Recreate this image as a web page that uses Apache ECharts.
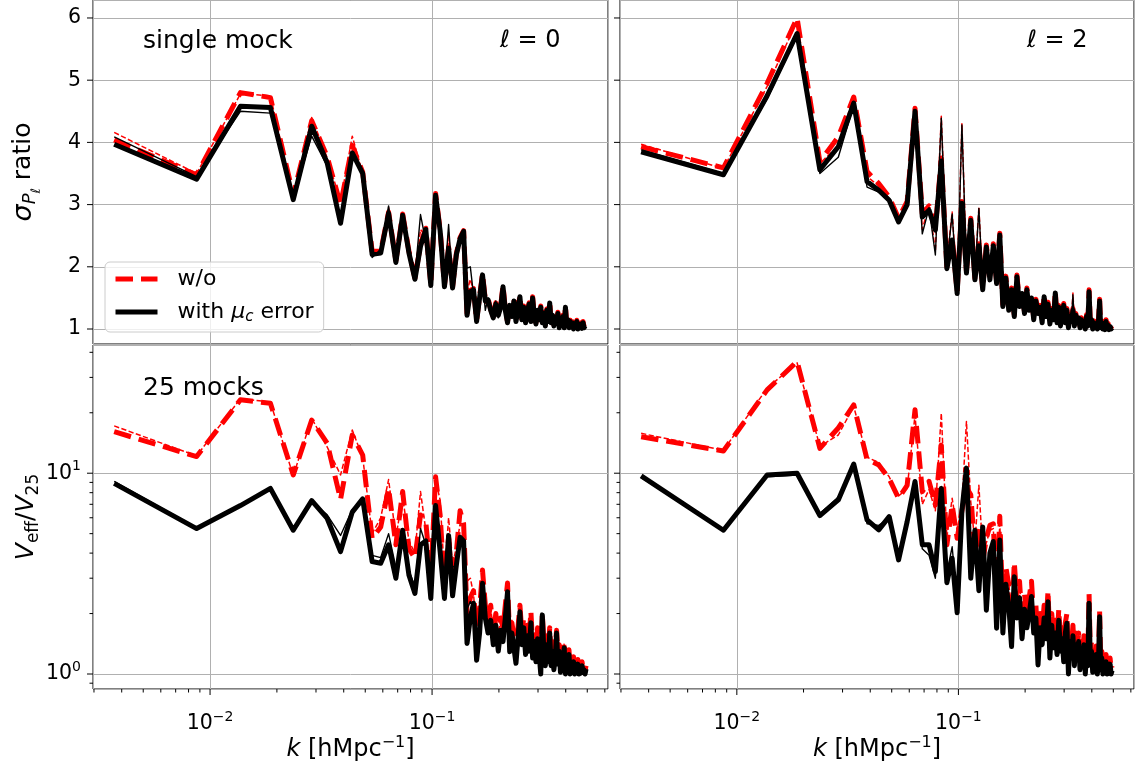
<!DOCTYPE html>
<html>
<head>
<meta charset="utf-8">
<title>sigma ratio / Veff</title>
<script src="https://cdn.jsdelivr.net/npm/echarts@6/dist/echarts.min.js"></script>
<style>
  html, body { margin: 0; padding: 0; background: #fff; }
  #main { width: 1142px; height: 769px; }
</style>
</head>
<body>
<div id="main"></div>
<script>
// k bins [h/Mpc]
var k = [
  0.0037,0.0087,0.0137,0.0187,0.0237,0.0287,0.0337,0.0387,0.0437,0.0487,
  0.0537,0.0587,0.0637,0.0687,0.0737,0.0787,0.0837,0.0887,0.0937,0.0987,
  0.1037,0.1087,0.1137,0.1187,0.1237,0.1287,0.1337,0.1387,0.1437,0.1487,
  0.1537,0.1587,0.1637,0.1687,0.1737,0.1787,0.1837,0.1887,0.1937,0.1987,
  0.2037,0.2087,0.2137,0.2187,0.2237,0.2287,0.2337,0.2387,0.2437,0.2487,
  0.2537,0.2587,0.2637,0.2687,0.2737,0.2787,0.2837,0.2887,0.2937,0.2987,
  0.3037,0.3087,0.3137,0.3187,0.3237,0.3287,0.3337,0.3387,0.3437,0.3487,
  0.3537,0.3587,0.3637,0.3687,0.3737,0.3787,0.3837,0.3887,0.3937,0.3987,
  0.4037,0.4087,0.4137,0.4187,0.4237,0.4287,0.4337,0.4387,0.4437,0.4487,
  0.4537,0.4587,0.4637,0.4687,0.4737,0.4787,0.4837,0.4887,0.4937
];

// single mock, l=0 : sigma ratio
var l0SingleWo = [
  4.04,3.48,4.80,4.72,3.15,4.35,3.77,3.00,3.95,3.52,
  2.25,2.25,2.88,2.10,2.85,2.25,1.82,2.36,2.62,1.72,
  3.18,2.60,1.70,2.32,1.68,2.22,2.47,2.58,1.25,1.62,
  1.65,1.14,1.52,1.89,1.47,1.49,1.32,1.20,1.42,1.24,
  1.37,1.70,1.32,1.12,1.40,1.22,1.47,1.14,1.32,1.54,
  1.17,1.37,1.12,1.30,1.42,1.14,1.52,1.22,1.10,1.32,
  1.17,1.37,1.12,1.27,1.07,1.32,1.14,1.44,1.12,1.24,
  1.07,1.20,1.12,1.27,1.04,1.17,1.10,1.22,1.04,1.37,
  1.10,1.17,1.04,1.14,1.07,1.12,1.02,1.10,1.05,1.14,
  1.02,1.08,1.04,1.10,1.03,1.12,1.04,1.07,1.05
];
var l0SingleWoThin = [
  4.16,3.50,4.78,4.75,3.12,4.40,3.75,3.05,4.10,3.50,
  2.20,2.26,2.95,2.10,2.80,2.30,1.84,2.60,2.50,1.72,
  3.12,2.65,1.72,2.55,1.68,2.15,2.45,2.55,1.60,1.80,
  1.60,1.18,1.58,1.84,1.40,1.50,1.33,1.22,1.44,1.20,
  1.38,1.65,1.34,1.14,1.35,1.24,1.44,1.16,1.28,1.50,
  1.18,1.33,1.14,1.30,1.38,1.15,1.48,1.23,1.11,1.28,
  1.18,1.33,1.13,1.24,1.08,1.28,1.14,1.40,1.12,1.20,
  1.07,1.17,1.11,1.23,1.04,1.14,1.09,1.19,1.04,1.33,
  1.09,1.14,1.04,1.11,1.06,1.10,1.02,1.08,1.04,1.12,
  1.01,1.06,1.03,1.08,1.02,1.10,1.03,1.05,1.04
];
var l0SingleWith = [
  3.97,3.41,4.58,4.56,3.08,4.26,3.67,2.70,3.83,3.50,
  2.20,2.22,2.86,2.07,2.83,2.22,1.80,2.33,2.60,1.70,
  3.15,2.58,1.68,2.30,1.66,2.20,2.45,2.57,1.22,1.60,
  1.63,1.12,1.50,1.87,1.45,1.47,1.30,1.18,1.40,1.22,
  1.35,1.68,1.30,1.10,1.38,1.20,1.45,1.12,1.30,1.52,
  1.15,1.35,1.10,1.28,1.40,1.12,1.50,1.20,1.08,1.30,
  1.15,1.35,1.10,1.25,1.05,1.30,1.12,1.42,1.10,1.22,
  1.05,1.18,1.10,1.25,1.02,1.15,1.08,1.20,1.02,1.35,
  1.08,1.15,1.02,1.12,1.05,1.10,1.00,1.08,1.03,1.12,
  1.00,1.06,1.02,1.08,1.01,1.10,1.02,1.05,1.03
];
var l0SingleWithThin = [
  4.09,3.45,4.50,4.47,3.10,4.10,3.62,2.78,3.85,3.45,
  2.15,2.28,2.98,2.12,2.70,2.35,1.85,2.84,2.40,1.72,
  3.05,2.70,1.75,2.68,1.70,2.10,2.40,2.50,1.98,2.00,
  1.55,1.20,1.65,1.80,1.30,1.50,1.35,1.25,1.45,1.18,
  1.40,1.60,1.35,1.15,1.30,1.25,1.40,1.18,1.25,1.48,
  1.20,1.30,1.15,1.32,1.35,1.15,1.45,1.25,1.12,1.25,
  1.20,1.30,1.14,1.22,1.10,1.25,1.15,1.38,1.12,1.18,
  1.08,1.15,1.12,1.20,1.05,1.12,1.10,1.18,1.05,1.30,
  1.10,1.12,1.05,1.10,1.07,1.08,1.03,1.06,1.05,1.10,
  1.02,1.05,1.03,1.06,1.02,1.08,1.03,1.04,1.04
];

// single mock, l=2 : sigma ratio
var l2SingleWo = [
  3.93,3.59,4.95,6.00,3.69,4.09,4.73,3.53,3.34,3.12,
  2.78,3.05,4.55,2.85,2.98,2.62,3.75,2.00,2.48,1.60,
  3.05,1.93,2.78,1.82,2.37,1.66,2.35,1.82,2.37,1.76,
  2.54,1.39,1.85,1.33,1.66,1.23,1.87,1.39,1.60,1.28,
  1.66,1.33,1.53,1.18,1.48,1.28,1.38,1.13,1.55,1.23,
  1.43,1.11,1.33,1.18,1.61,1.13,1.38,1.08,1.28,1.41,
  1.13,1.33,1.05,1.23,1.15,1.33,1.08,1.25,1.13,1.21,
  1.05,1.18,1.08,1.15,1.03,1.23,1.08,1.63,1.11,1.18,
  1.03,1.13,1.05,1.11,1.03,1.15,1.48,1.05,1.13,1.03,
  1.08,1.02,1.15,1.03,1.09,1.02,1.07,1.03,1.05
];
var l2SingleWoThin = [
  3.97,3.58,4.90,5.95,3.66,3.95,4.75,3.45,3.30,3.10,
  2.78,3.00,4.50,2.60,3.00,2.25,4.42,2.08,2.88,1.65,
  4.30,2.03,2.68,1.88,2.96,1.73,2.23,1.88,2.28,1.83,
  2.43,1.48,1.78,1.41,1.61,1.31,1.78,1.43,1.53,1.33,
  1.58,1.38,1.48,1.23,1.43,1.31,1.35,1.18,1.48,1.25,
  1.38,1.15,1.31,1.21,1.53,1.17,1.33,1.13,1.25,1.35,
  1.15,1.29,1.09,1.21,1.16,1.58,1.11,1.23,1.15,1.19,
  1.08,1.16,1.10,1.13,1.06,1.19,1.09,1.53,1.13,1.16,
  1.05,1.11,1.07,1.10,1.05,1.13,1.41,1.07,1.11,1.05,
  1.07,1.03,1.13,1.04,1.08,1.03,1.06,1.04,1.05
];
var l2SingleWith = [
  3.85,3.48,4.75,5.75,3.56,3.93,4.63,3.37,3.23,3.07,
  2.72,3.00,4.50,2.80,2.91,2.59,3.70,1.97,2.43,1.57,
  3.02,1.90,2.75,1.79,2.34,1.63,2.32,1.79,2.34,1.73,
  2.51,1.36,1.82,1.30,1.63,1.20,1.84,1.36,1.57,1.25,
  1.63,1.30,1.50,1.15,1.45,1.25,1.35,1.10,1.52,1.20,
  1.40,1.08,1.30,1.15,1.58,1.10,1.35,1.05,1.25,1.38,
  1.10,1.30,1.02,1.20,1.12,1.30,1.05,1.22,1.10,1.18,
  1.02,1.15,1.05,1.12,1.00,1.20,1.05,1.60,1.08,1.15,
  1.00,1.10,1.02,1.08,1.00,1.12,1.45,1.02,1.10,1.00,
  1.05,0.99,1.12,1.00,1.06,0.99,1.04,1.00,1.02
];
var l2SingleWithThin = [
  3.88,3.50,4.70,5.72,3.50,3.76,4.60,3.28,3.20,3.05,
  2.75,2.95,4.45,2.53,2.95,2.19,4.39,2.05,2.85,1.62,
  4.28,2.00,2.65,1.85,2.94,1.70,2.20,1.85,2.25,1.80,
  2.40,1.45,1.75,1.38,1.58,1.28,1.75,1.40,1.50,1.30,
  1.55,1.35,1.45,1.20,1.40,1.28,1.32,1.15,1.45,1.22,
  1.35,1.12,1.28,1.18,1.50,1.14,1.30,1.10,1.22,1.32,
  1.12,1.26,1.06,1.18,1.13,1.55,1.08,1.20,1.12,1.16,
  1.05,1.13,1.07,1.10,1.03,1.16,1.06,1.50,1.10,1.13,
  1.02,1.08,1.04,1.07,1.02,1.10,1.38,1.04,1.08,1.02,
  1.04,1.00,1.10,1.01,1.05,1.00,1.03,1.01,1.02
];

// 25 mocks, l=0 : Veff / V25
var l0MocksWo = [
  16.1,12.1,23.2,22.3,9.8,18.4,14.1,7.4,15.5,12.3,
  4.74,5.4,8.4,4.4,8.1,4.2,3.77,6.2,5.75,3.0,
  9.6,6.2,2.77,4.8,3.0,4.07,6.5,5.6,2.0,2.4,
  2.6,1.5,2.1,3.3,2.2,1.9,2.2,1.6,2.0,1.5,
  1.9,1.7,2.2,2.84,1.5,1.8,1.55,1.3,1.7,2.2,
  1.6,1.9,1.45,1.75,1.5,2.05,1.4,1.65,1.3,1.7,
  1.4,1.15,2.0,1.45,1.25,1.55,1.3,1.7,1.25,1.45,
  1.15,1.35,1.65,1.25,1.4,1.12,1.3,1.2,1.45,1.08,
  1.25,1.12,1.32,1.06,1.18,1.08,1.22,1.05,1.14,1.07,
  1.18,1.04,1.1,1.05,1.15,1.06,1.09,1.04,1.1
];
var l0MocksWoThin = [
  17.2,12.2,23.5,22.6,9.7,18.8,13.5,9.8,16.4,12.0,
  5.0,6.0,9.3,4.8,7.6,4.6,4.0,8.1,5.2,3.4,
  9.3,7.35,3.1,6.0,3.5,4.3,5.6,5.2,2.9,3.0,
  2.5,1.65,2.3,3.1,2.1,2.0,2.1,1.7,1.95,1.6,
  1.85,1.75,2.15,2.7,1.55,1.85,1.6,1.35,1.65,2.15,
  1.65,1.85,1.5,1.7,1.55,2.0,1.45,1.6,1.35,1.65,
  1.45,1.2,1.95,1.5,1.3,1.5,1.35,1.65,1.3,1.42,
  1.2,1.32,1.6,1.28,1.38,1.15,1.28,1.22,1.42,1.1,
  1.22,1.14,1.3,1.08,1.16,1.1,1.2,1.07,1.13,1.08,
  1.16,1.06,1.1,1.06,1.13,1.07,1.09,1.05,1.09
];
var l0MocksWith = [
  8.9,5.3,6.9,8.4,5.2,7.3,5.95,4.07,6.4,7.45,
  3.63,3.56,4.4,3.0,5.2,3.1,2.52,4.4,4.6,2.38,
  6.9,4.07,2.38,4.9,2.45,3.5,4.8,4.6,1.42,1.9,
  2.25,1.17,1.6,2.83,1.9,1.6,1.85,1.4,1.75,1.3,
  1.65,1.45,1.9,2.57,1.29,1.6,1.35,1.13,1.5,2.04,
  1.4,1.7,1.25,1.55,1.3,1.8,1.2,1.45,1.15,1.5,
  1.25,1.0,1.97,1.3,1.1,1.4,1.15,1.6,1.1,1.3,
  1.05,1.2,1.6,1.12,1.3,1.02,1.2,1.1,1.35,1.0,
  1.15,1.05,1.25,1.0,1.1,1.02,1.15,1.0,1.08,1.02,
  1.12,1.0,1.06,1.01,1.1,1.02,1.05,1.0,1.06
];
var l0MocksWithThin = [
  9.1,5.35,7.0,8.3,5.25,7.2,6.2,4.9,6.6,7.3,
  3.9,3.8,5.0,3.4,4.8,3.3,2.7,5.3,4.4,2.6,
  6.5,3.9,2.6,4.5,3.4,3.5,4.5,4.4,2.1,2.3,
  2.15,1.3,1.75,2.6,1.8,1.65,1.8,1.45,1.7,1.35,
  1.6,1.5,1.85,2.4,1.35,1.6,1.4,1.2,1.45,1.95,
  1.4,1.65,1.3,1.5,1.35,1.7,1.25,1.4,1.2,1.45,
  1.3,1.05,1.85,1.3,1.15,1.35,1.2,1.5,1.12,1.28,
  1.08,1.2,1.5,1.15,1.25,1.05,1.18,1.12,1.3,1.03,
  1.12,1.07,1.2,1.02,1.1,1.04,1.12,1.02,1.07,1.04,
  1.1,1.02,1.06,1.02,1.08,1.03,1.05,1.02,1.05
];

// 25 mocks, l=2 : Veff / V25
var l2MocksWo = [
  15.2,12.9,26.0,36.0,13.3,16.8,21.9,11.7,11.0,9.4,
  7.5,8.7,20.7,8.1,9.1,6.95,13.8,4.4,6.95,4.74,
  6.5,8.5,7.8,4.07,5.3,3.63,4.74,5.5,5.6,2.2,
  6.1,2.0,3.4,2.8,1.7,3.6,2.3,2.9,1.8,2.5,
  2.0,2.4,2.9,1.9,2.2,1.35,2.0,1.65,2.2,1.75,
  2.6,1.4,2.0,1.55,1.85,1.45,2.1,1.5,1.7,1.3,
  1.8,2.0,1.15,1.65,1.35,1.75,1.25,1.6,1.35,1.6,
  1.2,1.45,1.3,1.55,1.12,1.4,1.22,2.5,1.28,1.45,
  1.12,1.32,1.18,1.38,1.1,1.28,2.05,1.15,1.3,1.08,
  1.2,1.1,1.25,1.08,1.16,1.08,1.2,1.06,1.1
];
var l2MocksWoThin = [
  15.8,13.0,26.5,35.5,13.6,15.5,21.5,12.0,11.3,9.6,
  7.7,8.4,19.5,7.0,8.3,6.5,19.9,4.8,7.5,5.2,
  7.0,18.1,7.2,4.5,8.7,4.0,4.5,5.2,5.3,2.5,
  5.6,2.2,3.2,2.9,1.85,3.4,2.4,2.8,1.9,2.4,
  2.05,2.3,2.75,1.95,2.1,1.45,1.95,1.7,2.1,1.8,
  2.45,1.45,1.9,1.6,1.8,1.5,2.0,1.55,1.65,1.35,
  1.75,1.9,1.2,1.6,1.4,1.7,1.3,1.55,1.38,1.55,
  1.22,1.42,1.32,1.5,1.15,1.38,1.25,2.3,1.3,1.42,
  1.15,1.3,1.2,1.35,1.12,1.26,1.95,1.17,1.28,1.1,
  1.19,1.11,1.23,1.09,1.15,1.09,1.18,1.07,1.1
];
var l2MocksWith = [
  9.7,5.2,9.8,10.0,6.15,7.36,11.1,5.85,5.22,6.08,
  3.7,5.74,9.1,4.4,4.4,3.24,8.4,2.85,3.77,2.02,
  6.5,10.6,3.0,5.2,2.6,5.4,2.08,4.0,4.57,1.69,
  4.65,1.6,2.8,2.2,1.37,3.05,1.9,2.4,1.5,2.1,
  1.7,2.0,2.43,1.6,1.9,1.11,1.7,1.4,1.9,1.5,
  2.29,1.2,1.75,1.35,1.6,1.25,1.85,1.3,1.5,1.15,
  1.6,1.79,1.0,1.45,1.2,1.55,1.1,1.4,1.2,1.45,
  1.05,1.3,1.15,1.4,1.0,1.25,1.1,2.25,1.15,1.3,
  1.02,1.2,1.08,1.25,1.0,1.15,1.93,1.05,1.2,1.0,
  1.1,1.02,1.15,1.0,1.08,1.01,1.12,1.0,1.04
];
var l2MocksWithThin = [
  9.5,5.25,9.6,9.8,6.3,7.6,11.0,5.6,5.5,6.0,
  3.8,5.6,9.0,4.2,3.9,3.0,8.6,3.2,4.3,2.3,
  6.0,10.3,3.3,4.9,3.0,5.0,2.4,3.8,4.2,2.0,
  4.3,1.8,2.6,2.3,1.5,2.9,2.0,2.3,1.6,2.0,
  1.75,1.95,2.3,1.65,1.85,1.2,1.7,1.45,1.85,1.55,
  2.2,1.25,1.7,1.4,1.55,1.3,1.8,1.35,1.45,1.2,
  1.55,1.7,1.05,1.4,1.25,1.5,1.15,1.38,1.22,1.4,
  1.08,1.28,1.18,1.35,1.04,1.22,1.12,2.1,1.18,1.26,
  1.05,1.18,1.1,1.22,1.03,1.14,1.8,1.07,1.17,1.03,
  1.09,1.04,1.12,1.02,1.07,1.03,1.1,1.02,1.04
];

// axis ticks
var xMajor = [0.01, 0.1];
var xMinor = [0.003,0.004,0.005,0.006,0.007,0.008,0.009,0.02,0.03,0.04,0.05,0.06,0.07,0.08,0.09,0.2,0.3,0.4,0.5,0.6];
var yMajorTop = [1, 2, 3, 4, 5, 6];
var yMajorBot = [1, 10];
var yMinorBot = [0.9, 2, 3, 4, 5, 6, 7, 8, 9, 20, 30, 40];

var K_MIN = 0.00297, K_MAX = 0.62;
var TOP_MIN = 0.759, TOP_MAX = 6.289;
var BOT_MIN = 0.842, BOT_MAX = 43.5;

var FONT = 'DejaVu Sans';
var RED = '#ff0000';

var chart = echarts.init(document.getElementById('main'));

function line(name, vals, g, color, width, dashed, z) {
  return {
    type: 'line', name: name, xAxisIndex: g, yAxisIndex: g,
    data: k.map(function (x, i) { return [x, vals[i]]; }),
    symbol: 'none', showSymbol: false, silent: true, z: z,
    lineStyle: {
      color: color, width: width, join: 'round',
      type: dashed ? [3.5 * width, 1.6 * width] : 'solid'
    }
  };
}

function panel(g, wo, woThin, wi, wiThin, woName, wiName) {
  return [
    line(woName || ('wo' + g), wo, g, RED, 5, true, 2),
    line('woThin' + g, woThin, g, RED, 1.5, true, 3),
    line(wiName || ('with' + g), wi, g, '#000', 5, false, 4),
    line('withThin' + g, wiThin, g, '#000', 1.4, false, 5)
  ];
}

// tick marks drawn through the axes' own coordinate mapping
function ticks(g, majors, minors, onY, yMin) {
  var data = majors.map(function (v) { return [v, 2]; })
    .concat(minors.map(function (v) { return [v, 1]; }));
  return {
    type: 'custom', xAxisIndex: g, yAxisIndex: g, silent: true, clip: false, z: 6,
    data: data,
    renderItem: function (params, api) {
      var len = api.value(1) > 1 ? 6 : 3.5;
      var p;
      if (onY) {
        p = api.coord([K_MIN, api.value(0)]);
        return { type: 'line', shape: { x1: p[0] - len, y1: p[1], x2: p[0], y2: p[1] },
                 style: { stroke: '#000', lineWidth: 1 } };
      }
      p = api.coord([api.value(0), yMin]);
      return { type: 'line', shape: { x1: p[0], y1: p[1], x2: p[0], y2: p[1] + len },
               style: { stroke: '#000', lineWidth: 1 } };
    }
  };
}

function powLabel(v) {
  var e = Math.log10(v), r = Math.round(e);
  if (Math.abs(e - r) > 1e-6) return '';
  return '{b|10}{s|' + (r < 0 ? '\u2212' + (-r) : r) + '}';
}
function intLabel(v) {
  return Math.abs(v - Math.round(v)) < 1e-6 ? String(Math.round(v)) : '';
}

var labelRich = {
  b: { fontFamily: FONT, fontSize: 20.5, color: '#000' },
  s: { fontFamily: FONT, fontSize: 14, color: '#000', padding: [0, 0, 13, 0] }
};
var splitLine = { show: true, lineStyle: { color: '#b0b0b0', width: 1 } };

function xAxis(g, withLabels) {
  return {
    type: 'log', gridIndex: g, min: K_MIN, max: K_MAX, logBase: 10,
    axisLine: { show: false }, axisTick: { show: false }, splitLine: splitLine,
    axisLabel: { show: withLabels, formatter: powLabel, rich: labelRich, margin: 21 },
    name: withLabels ? '{i|k} [hMpc{s|\u22121}]' : '',
    nameLocation: 'middle', nameGap: 44,
    nameTextStyle: {
      color: '#000', fontFamily: FONT, fontSize: 24,
      rich: {
        i: { fontFamily: FONT, fontSize: 24, fontStyle: 'italic', color: '#000' },
        t: { fontFamily: FONT, fontSize: 24, color: '#000' },
        s: { fontFamily: FONT, fontSize: 16, color: '#000', padding: [0, 0, 14, 0] }
      }
    }
  };
}

function yAxis(g, top, withLabels, name, nameRich) {
  var ax = {
    gridIndex: g, axisLine: { show: false }, axisTick: { show: false }, splitLine: splitLine,
    nameLocation: 'middle', nameRotate: 90, nameGap: 50,
    name: withLabels ? name : '',
    nameTextStyle: { color: '#000', fontFamily: FONT, fontSize: 24, rich: nameRich }
  };
  if (top) {
    ax.type = 'value'; ax.min = TOP_MIN; ax.max = TOP_MAX;
    ax.axisLabel = { show: withLabels, formatter: intLabel, color: '#000',
                     fontFamily: FONT, fontSize: 20.5, margin: 12 };
  } else {
    ax.type = 'log'; ax.logBase = 10; ax.min = BOT_MIN; ax.max = BOT_MAX;
    ax.axisLabel = { show: withLabels, formatter: powLabel, rich: labelRich, margin: 12 };
  }
  return ax;
}

var sigmaRich = {
  i: { fontFamily: FONT, fontSize: 27, fontStyle: 'italic', color: '#000' },
  p: { fontFamily: FONT, fontSize: 18, fontStyle: 'italic', color: '#000', padding: [14, 0, 0, 0] },
  l: { fontFamily: FONT, fontSize: 13, fontStyle: 'italic', color: '#000', padding: [26, 0, 0, 0] },
  t: { fontFamily: FONT, fontSize: 25, color: '#000' }
};
var veffRich = {
  i: { fontFamily: FONT, fontSize: 25, fontStyle: 'italic', color: '#000' },
  s: { fontFamily: FONT, fontSize: 17, color: '#000', padding: [14, 0, 0, 0] },
  t: { fontFamily: FONT, fontSize: 25, color: '#000' }
};

var grids = [
  { left: 93, top: 0, width: 515, height: 344 },
  { left: 620, top: 0, width: 514, height: 344 },
  { left: 93, top: 345, width: 515, height: 344 },
  { left: 620, top: 345, width: 514, height: 344 }
].map(function (g) {
  g.show = true; g.borderColor = '#000'; g.borderWidth = 1; g.backgroundColor = 'transparent';
  return g;
});

var WO = 'w/o', WITH = 'with \u03bcc error';

var series = []
  .concat(panel(0, l0SingleWo, l0SingleWoThin, l0SingleWith, l0SingleWithThin, WO, WITH))
  .concat(panel(1, l2SingleWo, l2SingleWoThin, l2SingleWith, l2SingleWithThin))
  .concat(panel(2, l0MocksWo, l0MocksWoThin, l0MocksWith, l0MocksWithThin))
  .concat(panel(3, l2MocksWo, l2MocksWoThin, l2MocksWith, l2MocksWithThin))
  .concat([
    ticks(0, yMajorTop, [], true),
    ticks(1, yMajorTop, [], true),
    ticks(2, yMajorBot, yMinorBot, true),
    ticks(3, yMajorBot, yMinorBot, true),
    ticks(2, xMajor, xMinor, false, BOT_MIN),
    ticks(3, xMajor, xMinor, false, BOT_MIN)
  ]);

function label(text, x, y, size, rich) {
  return {
    type: 'text', x: x, y: y, z: 10,
    style: { text: text, fill: '#000', font: size + 'px "DejaVu Sans"', verticalAlign: 'middle', rich: rich }
  };
}
var ellRich = { i: { fontFamily: FONT, fontSize: 24, fontStyle: 'italic', color: '#000' } };

chart.setOption({
  animation: false,
  backgroundColor: '#fff',
  grid: grids,
  xAxis: [xAxis(0, false), xAxis(1, false), xAxis(2, true), xAxis(3, true)],
  yAxis: [
    yAxis(0, true, true, '{i|\u03c3}{p|P}{l|\u2113}{t| ratio}', sigmaRich),
    yAxis(1, true, false),
    yAxis(2, false, true, '{i|V}{s|eff}{t|/}{i|V}{s|25}', veffRich),
    yAxis(3, false, false)
  ],
  legend: {
    data: [WO, WITH], orient: 'vertical', left: 105, top: 262,
    selectedMode: false, itemWidth: 42, itemHeight: 14, itemGap: 11,
    padding: [6, 10, 7, 8],
    borderColor: '#cccccc', borderWidth: 1, borderRadius: 5,
    backgroundColor: 'rgba(255,255,255,0.8)',
    itemStyle: { opacity: 0 },
    lineStyle: { width: 'inherit', type: 'inherit' },
    formatter: function (n) {
      return n === WO ? '{t|w/o}' : '{t|with }{m|\u03bc}{c|c}{t| error}';
    },
    textStyle: {
      padding: [0, 0, 0, 15],
      rich: {
        t: { fontFamily: FONT, fontSize: 22, color: '#000' },
        m: { fontFamily: FONT, fontSize: 22, fontStyle: 'italic', color: '#000' },
        c: { fontFamily: FONT, fontSize: 15, fontStyle: 'italic', color: '#000', padding: [11, 0, 0, 0] }
      }
    }
  },
  graphic: [
    label('single mock', 143, 41, 25),
    label('{i|\u2113} = 0', 500, 41, 24, ellRich),
    label('{i|\u2113} = 2', 1027, 41, 24, ellRich),
    label('25 mocks', 143, 388, 25)
  ],
  series: series
});
</script>
</body>
</html>
